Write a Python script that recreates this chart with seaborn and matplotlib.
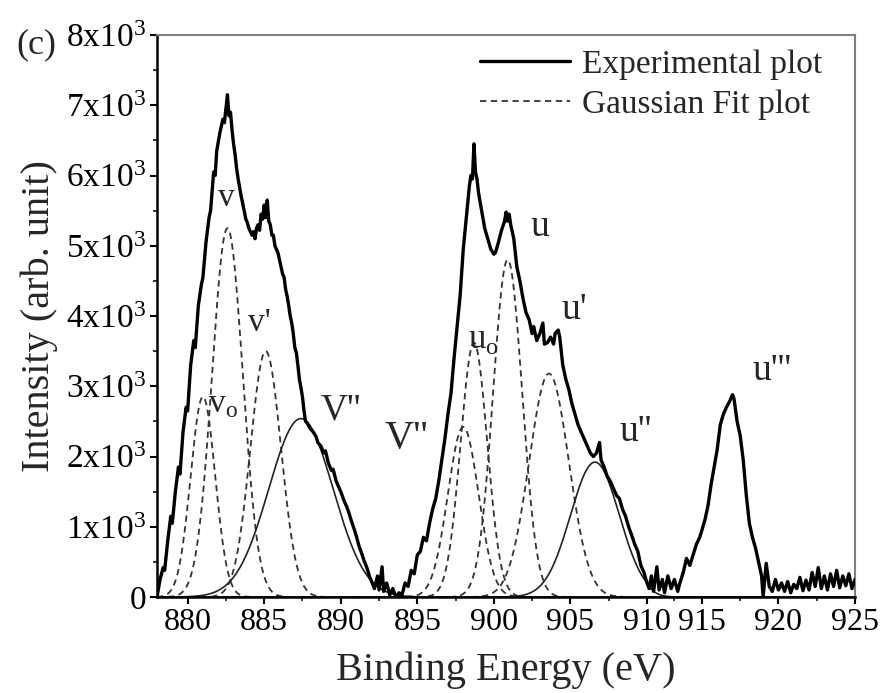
import numpy as np
import pandas as pd
import seaborn as sns
import matplotlib.pyplot as plt
from matplotlib.ticker import FixedLocator, MultipleLocator, FuncFormatter

# --- Data ---

energy = [
    878.0, 878.2, 878.4, 878.5, 878.7, 878.9, 879.0, 879.2, 879.4, 879.5,
    879.7, 879.9, 880.0, 880.2, 880.4, 880.5, 880.7, 880.9, 881.0, 881.2,
    881.4, 881.5, 881.7, 881.8, 881.9, 882.1, 882.3, 882.4, 882.5, 882.6,
    882.7, 882.8, 882.9, 883.0, 883.1, 883.2, 883.3, 883.5, 883.6, 883.8,
    883.9, 884.0, 884.2, 884.3, 884.4, 884.5, 884.6, 884.7, 884.8, 884.9,
    885.0, 885.1, 885.2, 885.3, 885.4, 885.5, 885.6, 885.7, 885.8, 885.9,
    886.0, 886.1, 886.2, 886.3, 886.4, 886.5, 886.6, 886.7, 886.8, 886.9,
    887.0, 887.1, 887.2, 887.3, 887.4, 887.5, 887.6, 887.7, 887.8, 888.0,
    888.2, 888.4, 888.5, 888.7, 888.9, 889.0, 889.2, 889.4, 889.5, 889.7,
    889.9, 890.0, 890.2, 890.4, 890.5, 890.7, 890.9, 891.0, 891.2, 891.4,
    891.5, 891.7, 891.9, 892.0, 892.2, 892.4, 892.5, 892.7, 892.8, 893.0,
    893.2, 893.4, 893.6, 893.8, 894.0, 894.2, 894.4, 894.6, 894.8, 895.0,
    895.2, 895.4, 895.6, 895.8, 896.0, 896.2, 896.4, 896.6, 896.8, 897.0,
    897.2, 897.4, 897.6, 897.8, 898.0, 898.2, 898.4, 898.5, 898.6, 898.7,
    898.8, 898.9, 899.0, 899.2, 899.4, 899.6, 899.8, 900.0, 900.1, 900.3,
    900.5, 900.7, 900.8, 900.9, 901.0, 901.1, 901.3, 901.5, 901.7, 901.9,
    902.1, 902.3, 902.5, 902.6, 902.8, 903.0, 903.2, 903.3, 903.5, 903.7,
    903.9, 904.0, 904.2, 904.3, 904.5, 904.7, 904.9, 905.1, 905.3, 905.5,
    905.7, 905.9, 906.1, 906.3, 906.5, 906.7, 906.9, 907.0, 907.2, 907.4,
    907.6, 907.8, 908.0, 908.2, 908.4, 908.6, 908.8, 909.0, 909.2, 909.4,
    909.6, 909.8, 910.0, 910.2, 910.4, 910.6, 910.9, 911.1, 911.4, 911.6,
    911.9, 912.2, 912.5, 912.8, 913.0, 913.3, 913.6, 913.9, 914.2, 914.5,
    914.8, 915.0, 915.2, 915.4, 915.6, 915.8, 916.0, 916.2, 916.4, 916.6,
    916.8, 917.0, 917.1, 917.3, 917.5, 917.7, 917.9, 918.1, 918.3, 918.5,
    918.7, 918.9, 919.0, 919.2, 919.4, 919.6, 919.8, 920.0, 920.2, 920.4,
    920.6, 920.8, 921.0, 921.2, 921.4, 921.6, 921.8, 922.0, 922.2, 922.4,
    922.6, 922.8, 923.0, 923.2, 923.4, 923.6, 923.8, 924.0, 924.2, 924.4,
    924.6, 924.8, 925.0,
]
intensity = [
    0, 250, 420, 380, 800, 1150, 1050, 1500, 1850, 1750,
    2350, 2700, 2650, 3300, 3650, 3550, 4150, 4450, 4550, 5050,
    5400, 5500, 6050, 6000, 6350, 6600, 6800, 6750, 6950, 7150,
    6850, 6900, 6650, 6450, 6300, 6100, 5950, 5700, 5600, 5380,
    5330, 5250, 5150, 5200, 5100, 5250, 5300, 5220, 5450, 5380,
    5580, 5400, 5650, 5350, 5300, 5150, 5150, 5000, 4950, 4900,
    4800, 4700, 4600, 4550, 4380, 4280, 4150, 4000, 3900, 3750,
    3550, 3480, 3300, 3100, 2980, 2850, 2650, 2500, 2480, 2400,
    2350, 2280, 2200, 2150, 2050, 2080, 1900, 1800, 1820, 1650,
    1550, 1500, 1380, 1280, 1220, 1080, 950, 880, 720, 600,
    530, 420, 280, 230, 120, 300, 100, 430, 80, 200,
    30, 120, 0, 60, 30, 200, 150, 380, 330, 600,
    650, 850, 800, 1050, 1250, 1400, 1650, 1950, 2250, 2600,
    2900, 3400, 3850, 4300, 4950, 5400, 5850, 6000, 5950, 6450,
    6050, 5950, 5750, 5500, 5250, 5100, 4950, 4880, 4900, 5050,
    5220, 5350, 5480, 5350, 5450, 5300, 5100, 4700, 4500, 4250,
    4050, 3950, 3750, 3850, 3650, 3750, 3900, 3600, 3620, 3700,
    3600, 3750, 3800, 3700, 3300, 3100, 2950, 2750, 2600, 2450,
    2350, 2250, 2150, 2050, 2000, 2050, 2200, 1950, 1850, 1720,
    1650, 1550, 1450, 1400, 1250, 1150, 1000, 880, 750, 650,
    450, 350, 200, 120, 300, 80, 430, 100, 250, 60,
    300, 120, 250, 80, 200, 350, 550, 450, 600, 750,
    850, 950, 1100, 1300, 1600, 1850, 2100, 2450, 2600, 2700,
    2780, 2880, 2820, 2500, 2300, 1950, 1450, 1050, 850, 700,
    500, 300, 0, 480, 150, 80, 250, 100, 200, 80,
    220, 60, 180, 120, 280, 90, 240, 100, 350, 150,
    420, 120, 300, 100, 330, 150, 380, 130, 300, 160,
    330, 120, 250,
]

# Gaussian fit components: centre (eV), height, sigma (eV)
peak_names = ["v0", "v", "v'", "v''", "V''", "u0", "u", "u'", "u''"]
peak_centers = [881.0, 882.6, 885.1, 887.4, 898.0, 898.7, 900.9, 903.6, 906.6]
peak_heights = [2850, 5250, 3500, 2540, 2420, 3620, 4800, 3180, 1920]
peak_sigmas = [0.8, 1.0, 1.0, 2.1, 1.0, 0.87, 0.95, 1.3, 1.6]
peak_solid = [False, False, False, True, False, False, False, False, True]

# peak labels
label_texts = ["v", "v'", r"v$_\mathregular{o}$", "V''", "V''",
               "u", "u'", r"u$_\mathregular{o}$", "u''", "u'''"]
label_x = [882.5, 884.7, 882.3, 890.0, 894.3, 903.0, 905.25, 899.3, 909.25, 919.6]
label_y = [5680, 3900, 2730, 2660, 2260, 5270, 4090, 3660, 2350, 3220]
label_sizes = [24, 24, 24, 27, 29, 27, 27, 25, 27, 27]

x_major = [880, 885, 890, 895, 900, 905, 910, 915, 920, 925]
x_minor = [882.5, 887.5, 892.5, 897.5, 902.5, 907.5, 912.5, 917.5, 922.5]

# the 910-915 interval is compressed on the original axis
GAP = 0.717


def fwd(x):
    x = np.asarray(x, dtype=float)
    return np.where(x <= 910, x,
                    np.where(x <= 915, 910 + (x - 910) * GAP, 910 + 5 * GAP + (x - 915)))


def inv(u):
    u = np.asarray(u, dtype=float)
    b = 910 + 5 * GAP
    return np.where(u <= 910, u,
                    np.where(u <= b, 910 + (u - 910) / GAP, 915 + (u - b)))


def y_fmt(v, pos):
    if v == 0:
        return "0"
    return r"$\mathregular{%dx10^3}$" % int(round(v / 1000))


# --- Plotting ---
sns.set_style("ticks")
plt.rcParams['font.family'] = ['Liberation Serif', 'DejaVu Serif']
plt.rcParams['mathtext.fontset'] = 'custom'
plt.rcParams['mathtext.rm'] = 'Liberation Serif'

fig = plt.figure(figsize=(8.83, 6.93), dpi=100)
ax = fig.add_axes([0.1778, 0.1385, 0.7905, 0.811])
ax.set_xscale('function', functions=(fwd, inv))

grid = np.linspace(878, 925, 2400)
first_dashed = True
for c, h, s, solid in zip(peak_centers, peak_heights, peak_sigmas, peak_solid):
    g = pd.DataFrame({'E': grid, 'I': h * np.exp(-0.5 * ((grid - c) / s) ** 2)})
    if solid:
        sns.lineplot(data=g, x='E', y='I', ax=ax, color='#222222', lw=1.2,
                     estimator=None, sort=False)
    else:
        sns.lineplot(data=g, x='E', y='I', ax=ax, color='#333333', lw=1.3,
                     linestyle=(0, (3.5, 2.5)), estimator=None, sort=False,
                     label='Gaussian Fit plot' if first_dashed else None)
        first_dashed = False

exp_df = pd.DataFrame({'E': energy, 'I': intensity})
sns.lineplot(data=exp_df, x='E', y='I', ax=ax, color='black', lw=2.4,
             estimator=None, sort=False, label='Experimental plot', zorder=5)

for t, x, y, fs in zip(label_texts, label_x, label_y, label_sizes):
    ax.text(x, y, t, fontsize=fs, ha='center', va='center')

ax.set_xlim(878, 925)
ax.set_ylim(0, 8000)
ax.xaxis.set_major_locator(FixedLocator(x_major))
ax.xaxis.set_minor_locator(FixedLocator(x_minor))
ax.xaxis.set_major_formatter(FuncFormatter(lambda v, p: "%d" % round(v)))
ax.yaxis.set_major_locator(MultipleLocator(1000))
ax.yaxis.set_minor_locator(MultipleLocator(500))
ax.yaxis.set_major_formatter(FuncFormatter(y_fmt))

ax.tick_params(which='major', direction='out', length=5, width=1.5,
               labelsize=23, pad=3, colors='black')
ax.tick_params(axis='y', which='major', labelsize=24)
ax.tick_params(which='minor', direction='out', length=3, width=1.3)

for side in ['top', 'right']:
    ax.spines[side].set_color('#7f7f7f')
    ax.spines[side].set_linewidth(1.5)
for side in ['left', 'bottom']:
    ax.spines[side].set_color('black')
    ax.spines[side].set_linewidth(1.8)

ax.set_xlabel('Binding Energy (eV)', fontsize=29, labelpad=10)
ax.set_ylabel('Intensity (arb. unit)', fontsize=29, labelpad=6)

handles, labels = ax.get_legend_handles_labels()
order = [labels.index('Experimental plot'), labels.index('Gaussian Fit plot')]
ax.legend([handles[i] for i in order], [labels[i] for i in order],
          loc='upper left', bbox_to_anchor=(0.463, 0.975), frameon=False,
          fontsize=24, handlelength=2.7, handletextpad=0.35,
          labelspacing=0.3, borderpad=0, borderaxespad=0)

fig.text(0.019, 0.935, '(c)', fontsize=26, ha='left', va='center')

fig.savefig('out.png', dpi=100)
